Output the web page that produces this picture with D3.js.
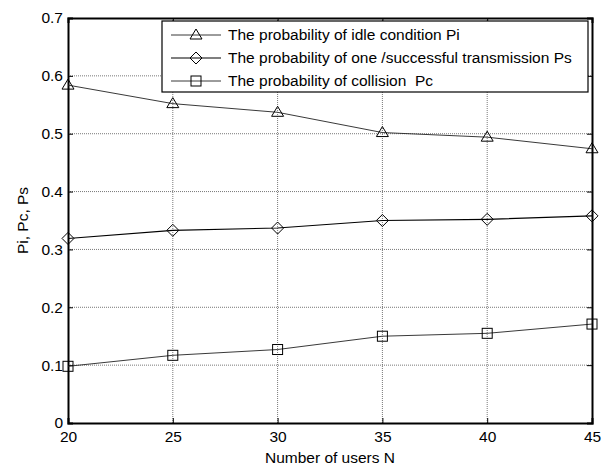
<!DOCTYPE html>
<html>
<head>
<meta charset="utf-8">
<script src="https://cdn.jsdelivr.net/npm/d3@7"></script>
<style>
  html, body { margin: 0; padding: 0; background: #fff; }
  svg { display: block; }
  text { font-family: "Liberation Sans", Arial, sans-serif; fill: #000; white-space: pre; }
</style>
</head>
<body>
<svg id="chart" width="609" height="466"></svg>
<script>
// ---- data ----
const users = [20, 25, 30, 35, 40, 45];
const idleProb = [0.584, 0.552, 0.537, 0.502, 0.494, 0.474];
const successProb = [0.319, 0.333, 0.337, 0.350, 0.352, 0.358];
const collisionProb = [0.098, 0.117, 0.127, 0.150, 0.155, 0.171];
const xTicks = [20, 25, 30, 35, 40, 45];
const yTicks = [0, 0.1, 0.2, 0.3, 0.4, 0.5, 0.6, 0.7];
const seriesNames = [
  "The probability of idle condition Pi",
  "The probability of one /successful transmission Ps",
  "The probability of collision  Pc"
];

const series = [
  { name: seriesNames[0], values: idleProb, marker: "triangle", color: "#222", width: 0.9 },
  { name: seriesNames[1], values: successProb, marker: "diamond", color: "#000", width: 1.1 },
  { name: seriesNames[2], values: collisionProb, marker: "square", color: "#222", width: 0.9 }
];

const FS = 15.5;
const svg = d3.select("#chart");
const pLeft = 68, pRight = 592, pTop = 18, pBottom = 423;

const x = d3.scaleLinear().domain([20, 45]).range([pLeft, pRight]);
const y = d3.scaleLinear().domain([0, 0.7]).range([pBottom, pTop]);

// grid
const grid = svg.append("g");
grid.selectAll(".vg").data(xTicks.slice(1, -1)).enter().append("line")
  .attr("x1", d => x(d)).attr("x2", d => x(d)).attr("y1", pTop).attr("y2", pBottom)
  .attr("stroke", "#555").attr("stroke-width", 0.8).attr("stroke-dasharray", "1,1");
grid.selectAll(".hg").data(yTicks.slice(1, -1)).enter().append("line")
  .attr("y1", d => y(d)).attr("y2", d => y(d)).attr("x1", pLeft).attr("x2", pRight)
  .attr("stroke", "#555").attr("stroke-width", 0.8).attr("stroke-dasharray", "1,1");

// axes
const fmt = d => (d === 0 ? "0" : d3.format(".1f")(d));
const xAxis = svg.append("g").attr("transform", `translate(0,${pBottom})`)
  .call(d3.axisBottom(x).tickValues(xTicks).tickSize(-5).tickPadding(8).tickFormat(d3.format("d")));
const yAxis = svg.append("g").attr("transform", `translate(${pLeft},0)`)
  .call(d3.axisLeft(y).tickValues(yTicks).tickSize(-5).tickPadding(5).tickFormat(fmt));
const xAxisTop = svg.append("g").attr("transform", `translate(0,${pTop})`)
  .call(d3.axisTop(x).tickValues(xTicks).tickSize(-5).tickFormat(""));
const yAxisRight = svg.append("g").attr("transform", `translate(${pRight},0)`)
  .call(d3.axisRight(y).tickValues(yTicks).tickSize(-5).tickFormat(""));
[xAxis, yAxis, xAxisTop, yAxisRight].forEach(g => {
  g.select(".domain").attr("stroke", "#000").attr("stroke-width", 2);
  g.selectAll(".tick line").attr("stroke", "#000").attr("stroke-width", 1);
  g.selectAll("text").attr("font-size", FS).attr("fill", "#000")
    .attr("font-family", '"Liberation Sans", Arial, sans-serif');
});
yAxis.selectAll(".tick text").attr("dy", "0.32em");

// axis titles
svg.append("text").attr("x", (pLeft + pRight) / 2).attr("y", 463)
  .attr("text-anchor", "middle").attr("font-size", FS).text("Number of users N");
svg.append("text").attr("transform", `translate(28,${(pTop + pBottom) / 2}) rotate(-90)`)
  .attr("text-anchor", "middle").attr("font-size", FS).text("Pi, Pc, Ps");

// marker drawing
function drawMarker(g, type, cx, cy) {
  if (type === "triangle") {
    g.append("path").attr("d", `M${cx},${cy - 6}L${cx + 6},${cy + 4}L${cx - 6},${cy + 4}Z`)
      .attr("fill", "none").attr("stroke", "#000").attr("stroke-width", 1);
  } else if (type === "diamond") {
    g.append("path").attr("d", `M${cx},${cy - 6}L${cx + 6},${cy}L${cx},${cy + 6}L${cx - 6},${cy}Z`)
      .attr("fill", "none").attr("stroke", "#000").attr("stroke-width", 1);
  } else {
    g.append("rect").attr("x", cx - 5).attr("y", cy - 5).attr("width", 10).attr("height", 10)
      .attr("fill", "none").attr("stroke", "#000").attr("stroke-width", 1);
  }
}

const line = d3.line().x(d => x(d[0])).y(d => y(d[1]));
series.forEach(s => {
  const pts = users.map((u, i) => [u, s.values[i]]);
  svg.append("path").datum(pts).attr("d", line)
    .attr("fill", "none").attr("stroke", s.color).attr("stroke-width", s.width);
  const g = svg.append("g");
  pts.forEach(p => drawMarker(g, s.marker, x(p[0]), y(p[1])));
});

// legend
const lg = svg.append("g");
lg.append("rect").attr("x", 162).attr("y", 21).attr("width", 426).attr("height", 71)
  .attr("fill", "#fff").attr("stroke", "#000").attr("stroke-width", 1.2);
series.forEach((s, i) => {
  const cy = 35 + i * 23;
  lg.append("line").attr("x1", 171).attr("x2", 221).attr("y1", cy).attr("y2", cy)
    .attr("stroke", s.color).attr("stroke-width", s.width);
  drawMarker(lg, s.marker, 196, cy);
  lg.append("text").attr("x", 228).attr("y", cy).attr("dy", "0.35em")
    .attr("font-size", FS).text(s.name);
});
</script>
</body>
</html>
